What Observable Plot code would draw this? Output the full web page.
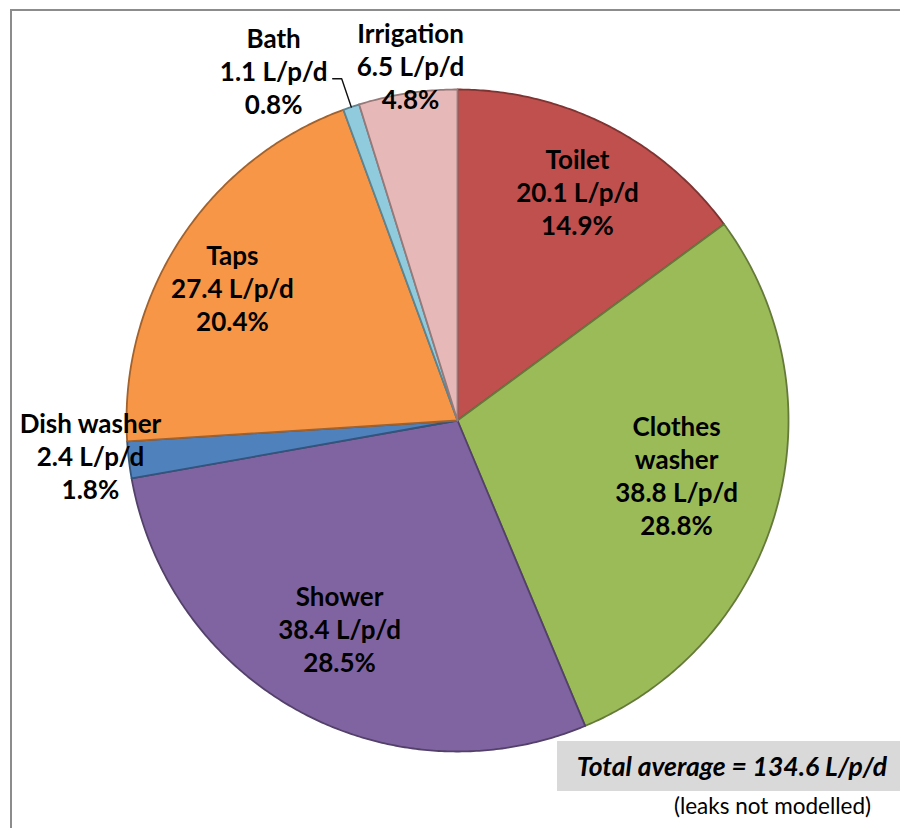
<!DOCTYPE html>
<html><head><meta charset="utf-8">
<script src="https://cdn.jsdelivr.net/npm/d3@7"></script>
<script src="https://cdn.jsdelivr.net/npm/@observablehq/plot@0.6"></script>
<style>
body{margin:0;background:#fff;}
#wrap{position:relative;width:900px;height:828px;overflow:hidden;font-family:Lato,"Open Sans",sans-serif;background:#fff;}
#frame{position:absolute;left:10px;top:9px;width:1000px;height:1000px;border:2px solid #8c8c8c;box-sizing:border-box;}
#chart{position:absolute;left:0;top:0;}
#total{position:absolute;left:557px;top:741px;width:343px;height:50px;background:#d9d9d9;box-sizing:border-box;padding-right:13px;text-align:right;font-style:italic;font-weight:bold;font-size:26.5px;line-height:50px;color:#000;}
#note{position:absolute;right:29px;top:791px;font-size:22.5px;line-height:30px;color:#000;}
</style></head>
<body>
<div id="wrap">
  <div id="frame"></div>
  <div id="chart"></div>
  <div id="total">Total average = 134.6 L/p/d</div>
  <div id="note">(leaks not modelled)</div>
</div>
<script>
// ---- data ----
const categories = ["Toilet", "Clothes washer", "Shower", "Dish washer", "Taps", "Bath", "Irrigation"];
const litres = [20.1, 38.8, 38.4, 2.4, 27.4, 1.1, 6.5];
const percents = [14.9, 28.8, 28.5, 1.8, 20.4, 0.8, 4.8];
const colors = ["#C0504D", "#9BBB59", "#8064A2", "#4F81BD", "#F79646", "#8FCBDD", "#E6B9B8"];
const nameLines = ["Toilet", "Clothes\nwasher", "Shower", "Dish washer", "Taps", "Bath", "Irrigation"];
const unit = "L/p/d";

// ---- layout (pixels / polar label placement) ----
const W = 900, H = 828, CX = 457, CY = 420, R = 331;
// label placement: [radius factor, angle in degrees clockwise from 12 o'clock]
const labelPolar = {
  "Toilet": [0.781, 27.65],
  "Clothes washer": [0.682, 103.97],
  "Shower": [0.722, 209.57],
  "Dish washer": [1.114, 264.55],
  "Taps": [0.79, 300.6],
  "Bath": [1.195, 332.3],
  "Irrigation": [1.082, 352.46]
};

const rows = categories.map((c, i) => ({cat: c, litres: litres[i], pct: percents[i], color: colors[i], name: nameLines[i]}));
const arcs = d3.pie().sort(null).value(d => d.pct)(rows);

const pts = [];
arcs.forEach(a => {
  const fill = a.data.color;
  const stroke = d3.color(fill).darker(1.2).formatHex();
  pts.push({k: a.data.cat, x: 0, y: 0, fill, stroke});
  const n = Math.max(2, Math.ceil((a.endAngle - a.startAngle) / (Math.PI / 360)));
  for (let j = 0; j <= n; j++) {
    const t = a.startAngle + (a.endAngle - a.startAngle) * j / n;
    pts.push({k: a.data.cat, x: Math.sin(t), y: Math.cos(t), fill, stroke});
  }
  pts.push({k: a.data.cat, x: 0, y: 0, fill, stroke});
});

const labels = rows.map(d => {
  const [r, deg] = labelPolar[d.cat];
  const t = deg * Math.PI / 180;
  return {x: r * Math.sin(t), y: r * Math.cos(t), text: `${d.name}\n${d.litres.toFixed(1)} ${unit}\n${d.pct.toFixed(1)}%`};
});

// leader line for Bath
const bath = arcs[categories.indexOf("Bath")];
const mid = (bath.startAngle + bath.endAngle) / 2;
const leader = [
  {x: Math.sin(mid), y: Math.cos(mid)},
  {x: 1.09 * Math.sin(mid), y: 1.09 * Math.cos(mid)},
  {x: 1.09 * Math.sin(mid) - 9 / R, y: 1.09 * Math.cos(mid)}
];

const chart = Plot.plot({
  width: W, height: H, margin: 0,
  x: {domain: [-CX / R, (W - CX) / R], axis: null},
  y: {domain: [-(H - CY) / R, CY / R], axis: null},
  color: {type: "identity"},
  style: {fontFamily: "Lato, 'Open Sans', sans-serif", background: "transparent"},
  marks: [
    Plot.line(pts, {x: "x", y: "y", z: "k", fill: "fill", stroke: "stroke", strokeWidth: 1.8, strokeLinejoin: "round"}),
    Plot.line(leader, {x: "x", y: "y", stroke: "#111", strokeWidth: 1.4}),
    Plot.text(labels, {x: "x", y: "y", text: "text", fontSize: 26, fontWeight: "bold", lineHeight: 1.27, fill: "#000"})
  ]
});
document.getElementById("chart").appendChild(chart);
</script>
</body></html>
